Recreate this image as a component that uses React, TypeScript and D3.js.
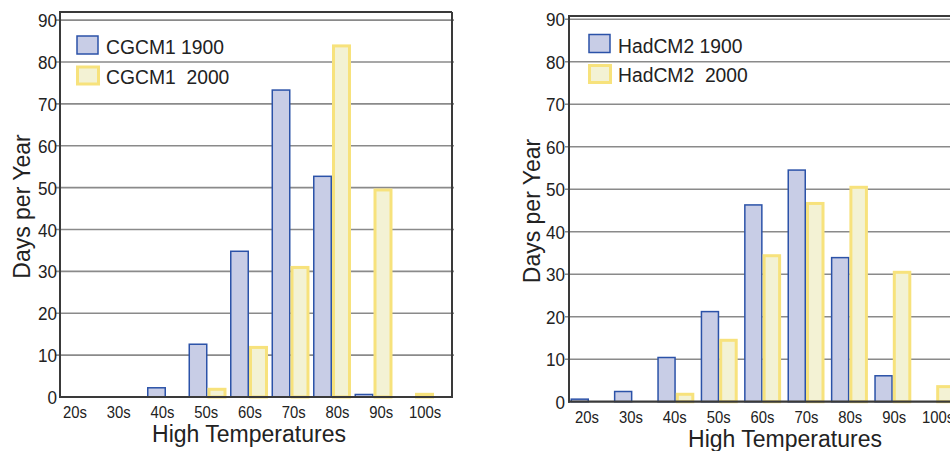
import React from "react";
import * as d3 from "d3";

const categories = ["20s", "30s", "40s", "50s", "60s", "70s", "80s", "90s", "100s"];
const cgcm1900 = [0, 0, 2.2, 12.6, 34.8, 73.3, 52.7, 0.6, 0];
const cgcm2000 = [0, 0, 0, 2.2, 12.2, 31.3, 84.2, 49.8, 1];
const hadcm1900 = [0.6, 2.4, 10.4, 21.2, 46.3, 54.5, 33.9, 6.1, 0];
const hadcm2000 = [0, 0, 2.1, 14.8, 34.7, 47, 50.8, 30.8, 3.9];
const yTicks = [0, 10, 20, 30, 40, 50, 60, 70, 80, 90];
const legendLeft = ["CGCM1 1900", "CGCM1  2000"];
const legendRight = ["HadCM2 1900", "HadCM2  2000"];
const xTitle = "High Temperatures";
const yTitle = "Days per Year";

const BLUE_FILL = "#c8cde6";
const BLUE_STROKE = "#2b52a8";
const YEL_FILL = "#f3f2d4";
const YEL_STROKE = "#f7e27c";
const FRAME = "#3a3a3a";
const GRID = "#8a8a8a";
const FONT = "'Liberation Sans', Arial, Helvetica, sans-serif";

type PanelProps = {
  a: number[];
  b: number[];
  legend: string[];
  frame: { left: number; right: number; top: number; bottom: number };
  yMax: number;
  y80: number;
  band: [number, number];
  pad: number;
  labelRange: [number, number];
  tickRight: number;
  titleX: number;
  yTitleX: number;
  yTitleY: number;
  legendX: number;
  legendY: number;
};

function Panel(p: PanelProps) {
  const { frame } = p;
  const y = d3.scaleLinear().domain([0, 80]).range([frame.bottom, p.y80]);
  const x = d3.scaleBand<string>().domain(categories).range(p.band).paddingInner(p.pad).paddingOuter(0);
  const xl = d3.scalePoint<string>().domain(categories).range(p.labelRange);
  const bw = x.bandwidth() / 2;
  return (
    <g>
      {/* gridlines */}
      {yTicks.filter((t) => t > 0 && y(t) > frame.top + 2).map((t) => (
        <line key={"g" + t} x1={frame.left - 4} x2={frame.right + 2} y1={y(t)} y2={y(t)} stroke={GRID} strokeWidth={1.6} />
      ))}
      {/* bars */}
      {categories.map((c, i) => (
        <g key={c}>
          {p.a[i] > 0 && (
            <rect x={x(c)! + 0.75} y={y(p.a[i])} width={bw - 1.5} height={frame.bottom - y(p.a[i])}
              fill={BLUE_FILL} stroke={BLUE_STROKE} strokeWidth={1.5} />
          )}
          {p.b[i] > 0 && (
            <rect x={x(c)! + bw + 1.5} y={y(p.b[i]) + 1.5} width={bw - 3} height={Math.max(0, frame.bottom - y(p.b[i]) - 1.5)}
              fill={YEL_FILL} stroke={YEL_STROKE} strokeWidth={3} />
          )}
        </g>
      ))}
      {/* frame */}
      <line x1={frame.left} x2={frame.right} y1={frame.top} y2={frame.top} stroke={FRAME} strokeWidth={2} />
      <line x1={frame.right} x2={frame.right} y1={frame.top} y2={frame.bottom} stroke={FRAME} strokeWidth={2} />
      <line x1={frame.left} x2={frame.left} y1={frame.top - 1} y2={frame.bottom + 1} stroke={FRAME} strokeWidth={2} />
      <line x1={frame.left - 1} x2={frame.right + 1} y1={frame.bottom} y2={frame.bottom} stroke={FRAME} strokeWidth={2.2} />
      {/* y tick labels */}
      {yTicks.map((t) => (
        <text key={"t" + t} transform={`translate(${p.tickRight},${y(t) + 7}) scale(0.9,1)`} textAnchor="end"
          fontSize={19} fill="#222" fontFamily={FONT}>{t}</text>
      ))}
      {/* x tick labels */}
      {categories.map((c) => (
        <text key={"x" + c} transform={`translate(${xl(c)},${frame.bottom + 21}) scale(0.9,1)`} textAnchor="middle"
          fontSize={16.5} fill="#222" fontFamily={FONT}>{c}</text>
      ))}
      {/* titles */}
      <text x={p.titleX} y={frame.bottom + 45} textAnchor="middle" fontSize={23} fill="#222" fontFamily={FONT}>{xTitle}</text>
      <text transform={`translate(${p.yTitleX},${p.yTitleY}) rotate(-90)`} textAnchor="middle" fontSize={23}
        fill="#222" fontFamily={FONT}>{yTitle}</text>
      {/* legend */}
      <rect x={p.legendX} y={p.legendY} width={21} height={18} fill={BLUE_FILL} stroke={BLUE_STROKE} strokeWidth={1.5} />
      <rect x={p.legendX + 0.5} y={p.legendY + 31} width={21} height={17} fill={YEL_FILL} stroke={YEL_STROKE} strokeWidth={3} />
      {p.legend.map((s, i) => (
        <text key={s} transform={`translate(${p.legendX + 29},${p.legendY + 18 + i * 29.5}) scale(0.92,1)`}
          fontSize={21} fill="#222" fontFamily={FONT} style={{ whiteSpace: "pre" }}>{s}</text>
      ))}
    </g>
  );
}

export default function App() {
  return (
    <svg width={950} height={451} style={{ position: "absolute", left: 0, top: 0, background: "#fff" }}>
      <rect width={950} height={451} fill="#fff" />
      <Panel a={cgcm1900} b={cgcm2000} legend={legendLeft}
        frame={{ left: 60, right: 452, top: 12, bottom: 397 }} yMax={92} y80={62}
        band={[64, 434]} pad={0.085} labelRange={[75, 425]} tickRight={57}
        titleX={249} yTitleX={29.5} yTitleY={206.5} legendX={77} legendY={36} />
      <Panel a={hadcm1900} b={hadcm2000} legend={legendRight}
        frame={{ left: 569, right: 962, top: 16, bottom: 401.7 }} yMax={91} y80={61.7}
        band={[570.5, 954.7]} pad={0.147} labelRange={[587, 938]} tickRight={565}
        titleX={785} yTitleX={539.5} yTitleY={211} legendX={589} legendY={34.5} />
    </svg>
  );
}
